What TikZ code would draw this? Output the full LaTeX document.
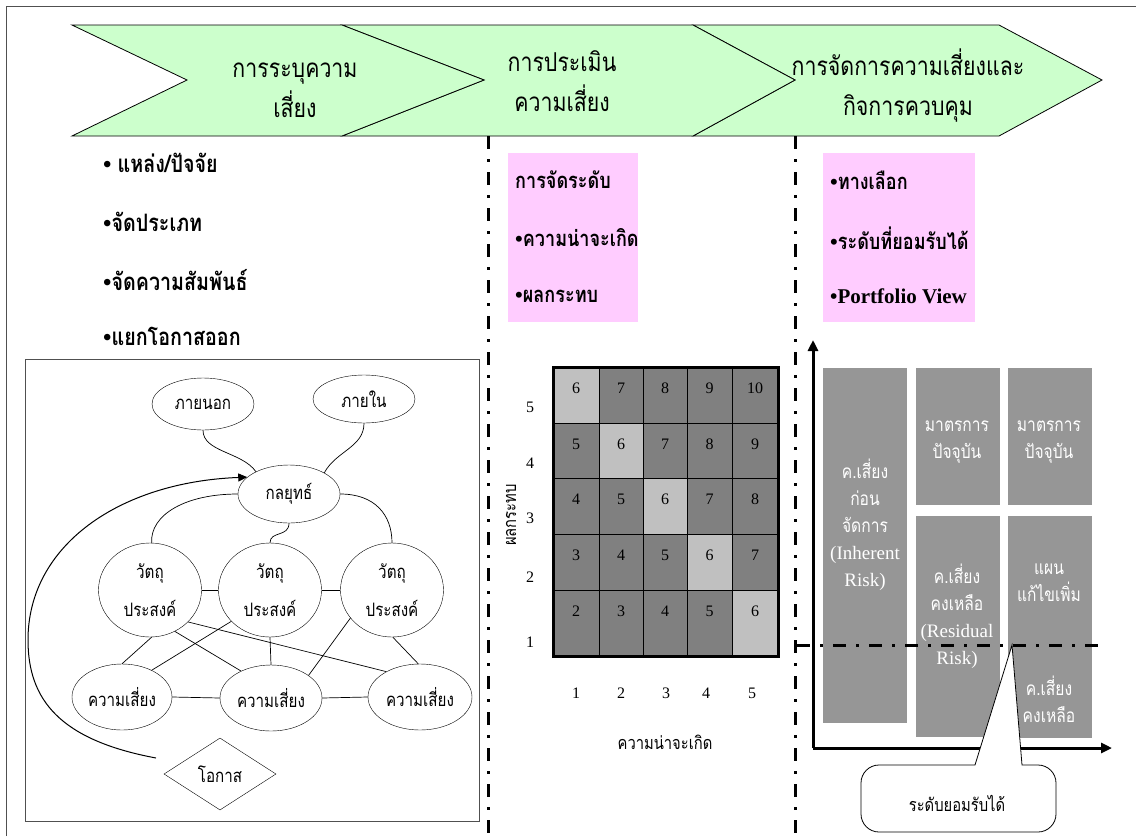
\documentclass[tikz,border=0pt]{standalone}
\usepackage{fontspec}
\setmainfont{Liberation Serif}
\newfontfamily\thai[Script=Thai,FakeStretch=0.82]{Loma}
\usetikzlibrary{shapes.geometric,arrows.meta}
\definecolor{chevgreen}{RGB}{204,255,204}
\definecolor{pinkbox}{RGB}{255,204,255}
\definecolor{darkcell}{RGB}{128,128,128}
\definecolor{lightcell}{RGB}{192,192,192}
\definecolor{graybox}{RGB}{150,150,150}
\definecolor{frame}{RGB}{80,80,80}
\begin{document}
\begin{tikzpicture}[x=1pt,y=-1pt,
  chev/.style={fill=chevgreen,draw=black,line width=0.8pt,line join=miter},
  hdr/.style={font=\thai\fontsize{26}{40}\selectfont,align=center,inner sep=0},
  bul/.style={font=\bfseries\fontsize{24}{26}\selectfont,anchor=west,inner sep=0},
  pbul/.style={font=\bfseries\fontsize{22}{26}\selectfont,anchor=west,inner sep=0},
  ell/.style={draw,ellipse,inner sep=0,font=\thai\fontsize{18.5}{38}\selectfont,align=center},
  conn/.style={draw,line width=0.7pt},
  dashline/.style={line width=3pt,dash pattern=on 13pt off 10pt on 3pt off 10pt},
  num/.style={font=\fontsize{16}{16}\selectfont,inner sep=0},
  wtxt/.style={text=white,font=\fontsize{19}{27}\selectfont,align=center,inner sep=0},
  axis/.style={line width=3pt,-{Triangle[length=11pt,width=10pt]}}
]
\useasboundingbox (0,0) rectangle (1136,836);
% outer frame
\draw[frame,line width=0.8pt] (6,836) -- (6,6) -- (1136,6);

% chevrons
\draw[chev] (693,25) -- (999,25) -- (1102,80) -- (999,136) -- (693,136) -- (795,80) -- cycle;
\draw[chev] (342,25) -- (693,25) -- (795,80) -- (693,136) -- (342,136) -- (484,80) -- cycle;
\draw[chev] (72,25) -- (342,25) -- (484,80) -- (342,136) -- (72,136) -- (187,80) -- cycle;
\node[hdr] (h1) at (295,90) {การระบุความ\\เสี่ยง};
\node[hdr] (h2) at (562,81) {การประเมิน\\ความเสี่ยง};
\node[hdr] (h3) at (908,86) {การจัดการความเสี่ยงและ\\กิจการควบคุม};

% dashed separators
\coordinate (d1t) at (488,136); \coordinate (d1b) at (488,836);
\coordinate (d2t) at (795,136); \coordinate (d2b) at (795,836);
\draw[dashline] (d1t) -- (d1b);
\draw[dashline] (d2t) -- (d2b);

% left bullets
\node[bul] (b1) at (103,163) {• {\thai แหล่ง/ปัจจัย}};
\node[bul] (b2) at (103,222) {•{\thai จัดประเภท}};
\node[bul] (b3) at (103,280) {•{\thai จัดความสัมพันธ์}};
\node[bul] (b4) at (103,336) {•{\thai แยกโอกาสออก}};

% left box
\draw[frame,line width=0.9pt] (25,359) rectangle (479,821);
\node[ell,minimum width=102pt,minimum height=52pt] (e1) at (203,404) {ภายนอก};
\node[ell,minimum width=102pt,minimum height=48pt] (e2) at (364,399) {ภายใน};
\node[ell,minimum width=102pt,minimum height=58pt] (st) at (289,494) {กลยุทธ์};
\node[ell,minimum width=103pt,minimum height=94pt] (o1) at (150,590) {วัตถุ\\ประสงค์};
\node[ell,minimum width=103pt,minimum height=94pt] (o2) at (270,590) {วัตถุ\\ประสงค์};
\node[ell,minimum width=103pt,minimum height=94pt] (o3) at (392,590) {วัตถุ\\ประสงค์};
\node[ell,minimum width=100pt,minimum height=66pt] (k1) at (122,697) {ความเสี่ยง};
\node[ell,minimum width=102pt,minimum height=66pt] (k2) at (271,698) {ความเสี่ยง};
\node[ell,minimum width=104pt,minimum height=66pt] (k3) at (420,697) {ความเสี่ยง};
\node[draw,diamond,aspect=1.55,minimum width=112pt,minimum height=72pt,inner sep=0,font=\thai\fontsize{18.5}{20}\selectfont] (op) at (220,774) {โอกาส};

\draw[conn] (e1.south) .. controls +(0,22) and +(-14,-20) .. (st.146);
\draw[conn] (e2.south) .. controls +(0,24) and +(12,-22) .. (st.31);
\draw[conn] (st.west) .. controls (185,494) and (150,515) .. (o1.88);
\draw[conn] (st.east) .. controls (375,494) and (392,515) .. (o3.north);
\draw[conn] (st.south) .. controls +(0,14) and +(0,-12) .. (o2.north);
\draw[conn] (o1.east) -- (o2.west);
\draw[conn] (o2.east) -- (o3.west);
\draw[conn] (o1.-88) -- (k1.90);
\draw[conn] (o1.-59) -- (k2.138);
\draw[conn] (o1.-40) -- (k3.143);
\draw[conn] (o2.219) -- (k1.42);
\draw[conn] (o2.south) -- (k2.north);
\draw[conn] (o3.214) -- (k2.31);
\draw[conn] (o3.-89) -- (k3.93);
\draw[conn] (k1.east) -- (k2.west);
\draw[conn] (k2.east) -- (k3.west);
\coordinate (arrS) at (156,758);
\draw[conn,line width=1pt,-{Triangle[length=9pt,width=8pt]}] (arrS) .. controls (60,740) and (28,700) .. (28,640) .. controls (28,545) and (120,482) .. (st.158);

% pink boxes
\fill[pinkbox] (508,153) rectangle (638,322);
\node[pbul] (p1) at (515,180) {{\thai การจัดระดับ}};
\node[pbul] (p2) at (515,238) {•{\thai ความน่าจะเกิด}};
\node[pbul] (p3) at (515,296) {•{\thai ผลกระทบ}};
\fill[pinkbox] (823,153) rectangle (975,322);
\node[pbul] (q1) at (830,180) {•{\thai ทางเลือก}};
\node[pbul] (q2) at (830,238) {•{\thai ระดับที่ยอมรับได้}};
\node[pbul] (q3) at (830,296) {\fontsize{21}{24}\selectfont•Portfolio View};

% risk matrix
\foreach \r/\yt/\yb in {5/367/423,4/423/478,3/478/534,2/534/590,1/590/656}{
  \foreach \c/\xl/\xr in {1/553/599,2/599/643,3/643/687,4/687/732,5/732/778}{
    \pgfmathtruncatemacro\v{\r+\c}
    \ifnum\v=6 \def\cc{lightcell}\else\def\cc{darkcell}\fi
    \filldraw[fill=\cc,draw=black,line width=0.8pt] (\xl,\yt) rectangle (\xr,\yb);
    \node[num] (m\r\c) at ({(\xl+\xr)/2},\yt+21) {\v};
  }
}
\draw[line width=3pt] (553,367) rectangle (778,656);
\node[num] (y5) at (530,407) {5};
\node[num] (y4) at (530,463) {4};
\node[num] (y3) at (530,518) {3};
\node[num] (y2) at (530,577) {2};
\node[num] (y1) at (530,642) {1};
\node[num] (x1) at (576,693) {1};
\node[num] (x2) at (621,693) {2};
\node[num] (x3) at (666,693) {3};
\node[num] (x4) at (706,693) {4};
\node[num] (x5) at (752,693) {5};
\node[inner sep=0,rotate=90,font=\thai\fontsize{18}{18}\selectfont] (ytitle) at (511,515) {ผลกระทบ};
\node[inner sep=0,font=\thai\fontsize{18}{18}\selectfont] (xtitle) at (665,742) {ความน่าจะเกิด};

% right panel
\fill[graybox] (823,368) rectangle (907,723);
\fill[graybox] (916,368) rectangle (1000,505);
\fill[graybox] (1008,368) rectangle (1092,505);
\fill[graybox] (916,516) rectangle (1000,737);
\fill[graybox] (1008,516) rectangle (1092,738);
\node[wtxt] (ta) at (865,525) {{\thai ค.เสี่ยง}\\{\thai ก่อน}\\{\thai จัดการ}\\(Inherent\\Risk)};
\node[wtxt] (tb) at (957,442) {{\thai มาตรการ}\\{\thai ปัจจุบัน}};
\node[wtxt] (tc) at (1049,442) {{\thai มาตรการ}\\{\thai ปัจจุบัน}};
\node[wtxt] (td) at (957,616) {{\thai ค.เสี่ยง}\\{\thai คงเหลือ}\\(Residual\\Risk)};
\node[wtxt] (te) at (1049,583) {{\thai แผน}\\{\thai แก้ไขเพิ่ม}};
\node[wtxt] (tf) at (1049,699) {{\thai ค.เสี่ยง}\\{\thai คงเหลือ}};
\coordinate (orig) at (813,748);
\coordinate (ytip) at (813,340);
\coordinate (xtip) at (1112,748);
\draw[axis] (orig) -- (ytip);
\draw[axis] (orig) -- (xtip);
% callout
\draw[fill=white,line width=0.8pt] (975,765) -- (1012,645) -- (1022,765) -- (1030,765)
  [rounded corners=18] -- (1056,765) -- (1056,832) -- (861,832) -- (861,765) -- (950,765) [sharp corners] -- cycle;
\node[inner sep=0,font=\thai\fontsize{18}{18}\selectfont] (cl) at (957,803) {ระดับยอมรับได้};
\coordinate (hl) at (797,645); \coordinate (hr) at (1108,645);
\draw[dashline] (hl) -- (hr);
\end{tikzpicture}
\end{document}
